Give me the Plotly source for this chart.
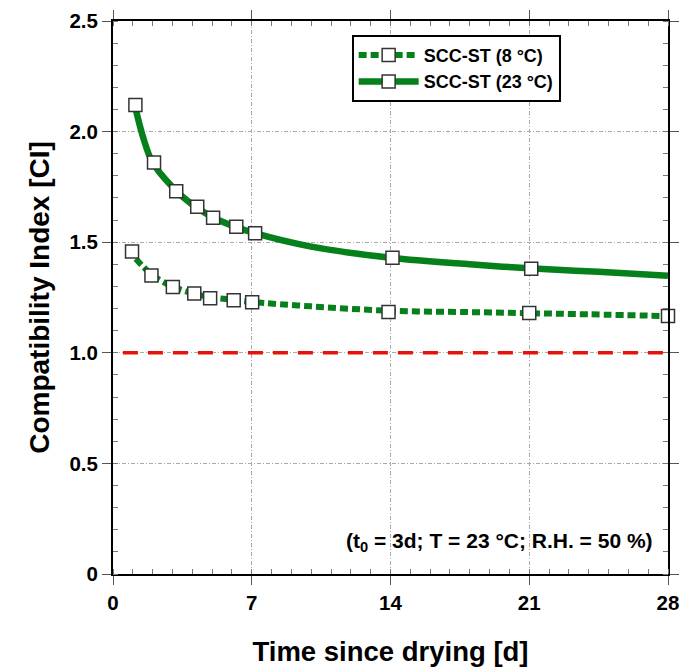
import plotly.graph_objects as go

days_8 = [0.96, 1.94, 3.02, 4.1, 4.9, 6.09, 7.02, 13.9, 21.0, 28.0]
ci_8 = [1.458, 1.35, 1.297, 1.268, 1.247, 1.238, 1.228, 1.185, 1.18, 1.166]

days_23 = [1.13, 2.07, 3.19, 4.25, 5.05, 6.22, 7.17, 14.1, 21.1]
ci_23 = [2.12, 1.86, 1.73, 1.66, 1.61, 1.57, 1.54, 1.43, 1.38]

# fitted curves
fit_x_8 = [1.15, 1.45, 2.0, 3.0, 4.0, 5.0, 6.0, 7.0, 10.0, 14.0, 18.0, 21.0, 24.0, 28.0]
fit_y_8 = [1.425, 1.396, 1.35, 1.30, 1.27, 1.25, 1.24, 1.23, 1.21, 1.19, 1.184, 1.179, 1.174, 1.166]

fit_x_23 = [1.1, 1.5, 2.0, 3.0, 4.0, 5.0, 6.0, 7.0, 10.0, 14.0, 18.0, 21.0, 24.5, 28.0]
fit_y_23 = [2.12, 1.98, 1.86, 1.75, 1.67, 1.615, 1.575, 1.545, 1.48, 1.43, 1.40, 1.382, 1.366, 1.348]

ref_x = [0.5, 28]
ref_y = [1.0, 1.0]

green = "#05801a"
font = "Liberation Sans, Arial, sans-serif"
mk = dict(symbol="square", size=13, color="white", line=dict(color="#333333", width=1.5))

fig = go.Figure()

fig.add_trace(go.Scatter(x=ref_x, y=ref_y, mode="lines", showlegend=False,
                         line=dict(color="#e8120c", width=3.5, dash="15px,10px")))

fig.add_trace(go.Scatter(x=fit_x_8, y=fit_y_8, mode="lines", line_shape="spline", showlegend=False,
                         line=dict(color=green, width=6, dash="8px,4px")))
fig.add_trace(go.Scatter(x=fit_x_23, y=fit_y_23, mode="lines", line_shape="spline", showlegend=False,
                         line=dict(color=green, width=6.5)))

fig.add_trace(go.Scatter(x=days_8, y=ci_8, mode="markers", showlegend=False, marker=mk, cliponaxis=False))
fig.add_trace(go.Scatter(x=days_23, y=ci_23, mode="markers", showlegend=False, marker=mk, cliponaxis=False))

# legend entries
fig.add_trace(go.Scatter(x=[None], y=[None], mode="lines+markers", name="SCC-ST (8 °C)",
                         line=dict(color=green, width=6, dash="8px,4px"), marker=mk))
fig.add_trace(go.Scatter(x=[None], y=[None], mode="lines+markers", name="SCC-ST (23 °C)",
                         line=dict(color=green, width=6.5), marker=mk))

axis_common = dict(
    showline=True, linecolor="black", linewidth=2, mirror="ticks",
    ticks="outside", ticklen=9, tickcolor="#555555", tickwidth=1,
    showgrid=True, gridcolor="#aaaaaa", gridwidth=1, griddash="4px,2px,1px,2px",
    zeroline=False, automargin=False,
    tickfont=dict(family=font, size=20.5, color="black", weight="bold"),
)

fig.update_xaxes(range=[0, 28], tickvals=[0, 7, 14, 21, 28],
                 minor=dict(dtick=1, ticks="inside", ticklen=5, tickcolor="#777777", showgrid=False),
                 title=dict(text="<b>Time since drying [d]</b>", font=dict(family=font, size=27.5, color="black"),
                            standoff=32),
                 **axis_common)
fig.update_yaxes(range=[0, 2.5], tickvals=[0, 0.5, 1.0, 1.5, 2.0, 2.5],
                 ticktext=["0", "0.5", "1.0", "1.5", "2.0", "2.5"],
                 minor=dict(dtick=0.1, ticks="inside", ticklen=5, tickcolor="#777777", showgrid=False),
                 title=dict(text="<b>Compatibility Index [CI]</b>", font=dict(family=font, size=28, color="black"),
                            standoff=12),
                 **axis_common)

fig.add_annotation(x=0.977, y=0.057, xref="paper", yref="paper", xanchor="right", yanchor="middle",
                   text="<b>(t<sub>0</sub> = 3d; T = 23 °C; R.H. = 50 %)</b>", showarrow=False,
                   font=dict(family=font, size=21, color="black"))

# page body adds 8px around the figure, so size and margins allow for it
fig.update_layout(
    width=684, height=659,
    margin=dict(l=105, r=24, t=13, b=93),
    plot_bgcolor="white", paper_bgcolor="white",
    legend=dict(x=0.43, y=0.975, xanchor="left", yanchor="top",
                bordercolor="black", borderwidth=2, bgcolor="white",
                font=dict(family=font, size=18, color="black", weight="bold"),
                tracegroupgap=0, itemwidth=60),
)

fig.write_html("out.html")
